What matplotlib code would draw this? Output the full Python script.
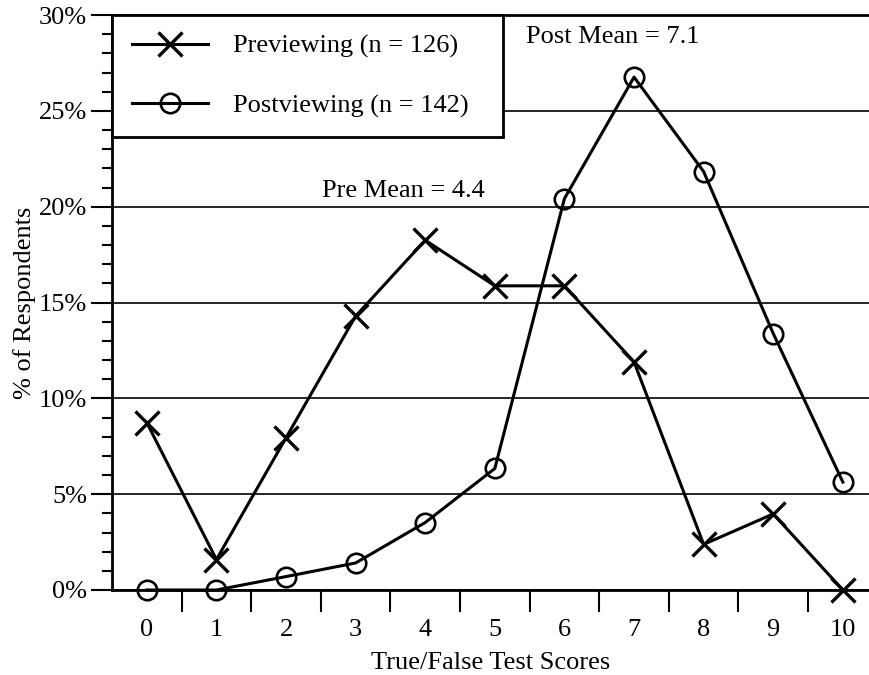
import matplotlib
matplotlib.use("Agg")
import matplotlib.pyplot as plt
from matplotlib.ticker import MultipleLocator, FuncFormatter

scores = [0, 1, 2, 3, 4, 5, 6, 7, 8, 9, 10]
pre_pct = [8.73, 1.59, 7.94, 14.29, 18.25, 15.87, 15.87, 11.90, 2.38, 3.97, 0.0]
post_pct = [0.0, 0.0, 0.70, 1.41, 3.52, 6.34, 20.42, 26.76, 21.83, 13.38, 5.63]
pre_label = "Previewing (n = 126)"
post_label = "Postviewing (n = 142)"
pre_mean_text = "Pre Mean = 4.4"
post_mean_text = "Post Mean = 7.1"

plt.rcParams['font.family'] = ['Liberation Serif', 'DejaVu Serif']

FS = 19

fig = plt.figure(figsize=(8.7, 6.75), dpi=100)
ax = fig.add_axes([112/870, 1 - 590/675, 1 - 112/870, (590 - 15)/675])

ax.plot(scores, pre_pct, color='black', lw=2.2, marker='x', ms=17, mew=2.4,
        label=pre_label, zorder=3, clip_on=False)
ax.plot(scores, post_pct, color='black', lw=2.2, marker='o', ms=14, mew=1.9,
        fillstyle='none', label=post_label, zorder=3, clip_on=False)

ax.set_xlim(-0.5, 10.39)
ax.set_ylim(0, 30)

ax.yaxis.set_major_locator(MultipleLocator(5))
ax.yaxis.set_minor_locator(MultipleLocator(1))
ax.yaxis.set_major_formatter(FuncFormatter(lambda v, p: f"{int(round(v))}%"))
ax.set_xticks(scores)
ax.set_xticks([s + 0.5 for s in scores[:-1]], minor=True)

ax.tick_params(axis='y', which='major', direction='out', length=15, width=1.5,
               labelsize=FS, pad=3)
ax.tick_params(axis='y', which='minor', direction='out', length=7, width=1.5)
ax.tick_params(axis='x', which='major', length=0, labelsize=FS, pad=21)
ax.tick_params(axis='x', which='minor', direction='out', length=16, width=1.5)

ax.grid(axis='y', which='major', color='black', lw=1.2, zorder=1)
ax.set_axisbelow(True)

for s in ['left', 'bottom', 'top']:
    ax.spines[s].set_linewidth(2.0)
ax.spines['right'].set_visible(False)

ax.set_xlabel("True/False Test Scores", fontsize=FS, labelpad=8)
ax.set_ylabel("% of Respondents", fontsize=FS, labelpad=2)

ax.text(3.69, 20.25, pre_mean_text, fontsize=FS, ha='center', va='bottom')
ax.text(6.7, 28.3, post_mean_text, fontsize=FS, ha='center', va='bottom')

leg_w = (503 - 112) / 758
leg = ax.legend(loc='upper left', bbox_to_anchor=(0, 0, leg_w, 1), mode='expand',
                borderaxespad=0, fontsize=FS, handlelength=2.9, handletextpad=0.95,
                labelspacing=1.35, borderpad=0.74, fancybox=False,
                edgecolor='black', framealpha=1)
leg.get_frame().set_linewidth(2.0)

fig.savefig("out.png", dpi=100)
